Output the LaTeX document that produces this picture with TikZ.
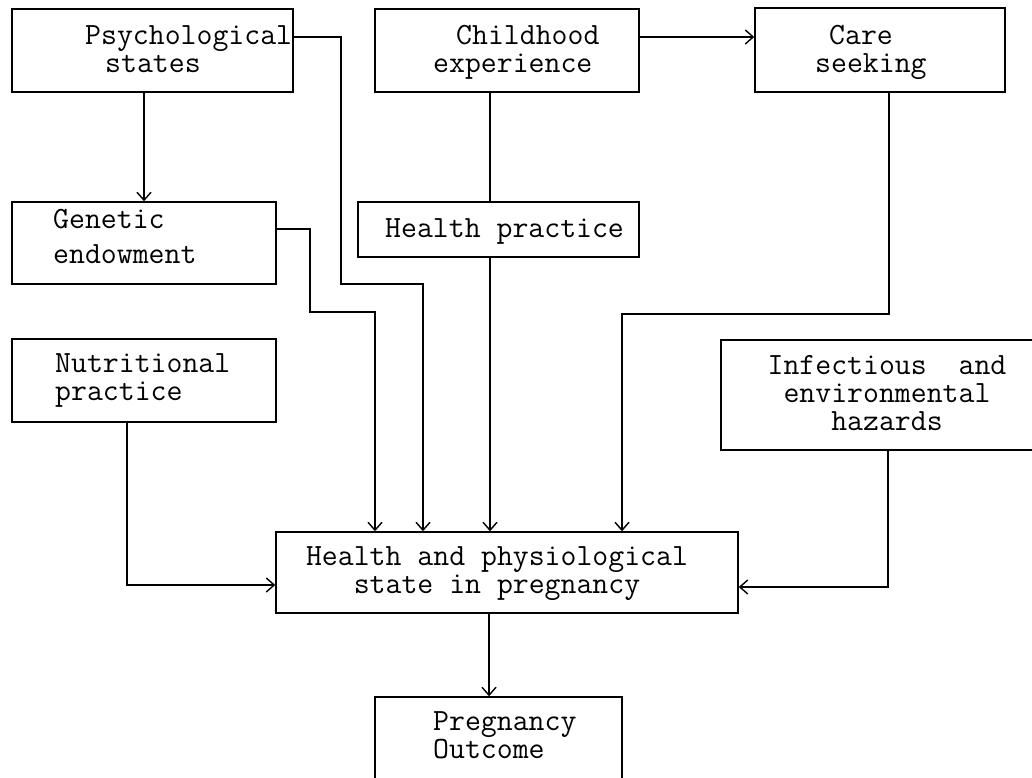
\documentclass[tikz,border=0pt]{standalone}
\usepackage{fontspec}
\usetikzlibrary{arrows.meta}
\begin{document}
\begin{tikzpicture}[x=1pt,y=-1pt,
  box/.style={draw, line width=1.4pt, inner sep=0pt},
  txt/.style={font=\ttfamily\fontsize{30.9}{28}\selectfont, inner sep=0pt, align=left, anchor=base west},
  ctxt/.style={font=\ttfamily\fontsize{30.9}{28}\selectfont, inner sep=0pt, align=center, anchor=base},
  conn/.style={line width=1.4pt},
  arr/.style={conn, -{Straight Barb[length=8pt,width=14pt,line width=1.4pt]}}]
\clip (0,0) rectangle (1032,777);
\fill[white] (0,0) rectangle (1032,777);
% boxes
\node[box, minimum width=281pt, minimum height=83pt] (psych) at (152.5,50.5) {};
\node[box, minimum width=264pt, minimum height=83pt] (child) at (507,50.5) {};
\node[box, minimum width=250pt, minimum height=84pt] (care) at (880,50) {};
\node[box, minimum width=264pt, minimum height=82pt] (genetic) at (144,243) {};
\node[box, minimum width=281pt, minimum height=55pt] (hp) at (498.5,229.5) {};
\node[box, minimum width=264pt, minimum height=83pt] (nut) at (144,380.5) {};
\node[box, minimum width=329pt, minimum height=110pt] (inf) at (885.5,395) {};
\node[box, minimum width=462pt, minimum height=81pt] (health) at (507,572.5) {};
\node[box, minimum width=247pt, minimum height=103pt] (preg) at (498.5,748.5) {};
% texts (anchor = baseline of the last line)
\node[txt] (psychT) at (85,72) {Psychological\\\hspace*{20pt}states};
\node[txt] (childT) at (433,72) {\hspace*{23pt}Childhood\\experience};
\node[txt] (careT) at (815,72) {\hspace*{14pt}Care\\seeking};
\node[txt] (geneticT) at (53,263) {Genetic\\[7pt]endowment};
\node[txt] (hpT) at (385,237) {Health practice};
\node[txt] (nutT) at (55,400) {Nutritional\\practice};
\node[ctxt] (infT) at (887,430) {Infectious\ \ and\\environmental\\hazards};
\node[ctxt] (healthT) at (497,593) {Health and physiological\\state in pregnancy};
\node[txt] (pregT) at (433,758) {Pregnancy\\Outcome};
% connectors
\draw[arr] (psych.south -| genetic.north) -- (genetic.north);
\draw[arr] (psych.east |- 0,37) -| (341,284) -| (health.north -| 423,0);
\draw[arr] (genetic.east |- 0,229) -| (310,312) -| (health.north -| 375,0);
\draw[conn] (child.south -| 490,0) -- (hp.north -| 490,0);
\draw[arr] (hp.south -| 490,0) -- (health.north -| 490,0);
\draw[arr] (child.east |- 0,37) -- (care.west |- 0,37);
\draw[arr] (care.south -| 889,0) |- (622,314) -- (health.north -| 622,0);
\draw[arr] (nut.south -| 127,0) |- (health.west |- 0,585);
\draw[arr] (inf.south -| 888,0) |- (health.east |- 0,587);
\draw[arr] (health.south -| 489,0) -- (preg.north -| 489,0);
\end{tikzpicture}
\end{document}
